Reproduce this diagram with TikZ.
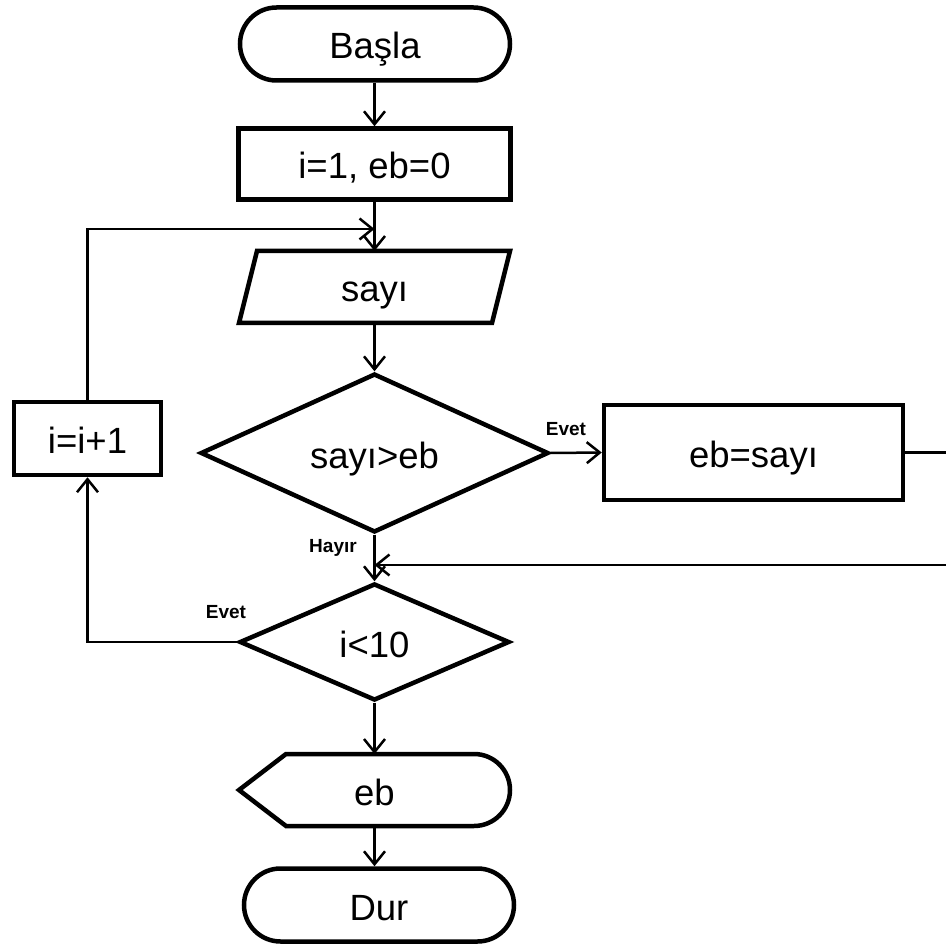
\documentclass[tikz,border=0pt]{standalone}
\usepackage{fontspec}
\setmainfont{Liberation Sans}
\usetikzlibrary{shapes.geometric,shapes.misc,arrows.meta,calc}

\begin{document}
\begin{tikzpicture}[x=1pt,y=-1pt,
  every node/.style={font=\fontsize{36.5}{40}\selectfont, inner sep=0pt,
    text height=30pt, text depth=0pt},
  border/.style={draw, line width=4.5pt},
  term/.style={border, rounded rectangle, minimum width=270pt, minimum height=73pt},
  proc/.style={border, rectangle},
  dec/.style={border, diamond},
  frame/.style={outer sep=0pt},
  conn/.style={line width=2.5pt, -{Straight Barb[length=13pt,width=21pt]}},
  lbl/.style={font=\bfseries\fontsize{19}{22}\selectfont, text height=13.6pt, text depth=0pt}
]
\useasboundingbox (0,0) rectangle (946,944);

% flowchart blocks
\node[term] (start) at (375,44) {Başla};
\node[proc, minimum width=272pt, minimum height=71pt] (init) at (374.5,164) {i=1, eb=0};
\node[frame, minimum width=253pt, minimum height=72pt] (sayi) at (374.5,287) {sayı};
\draw[border] ($(sayi.north west)+(9,0)$) -- ($(sayi.north east)+(9,0)$)
  -- ($(sayi.south east)+(-9,0)$) -- ($(sayi.south west)+(-9,0)$) -- cycle;
\node[dec, minimum width=348pt, minimum height=154pt] (cmp1) at (374.5,453) {sayı>eb};
\node[proc, minimum width=299pt, minimum height=95pt] (upd) at (753.5,452.5) {eb=sayı};
\node[proc, minimum width=147pt, minimum height=73pt] (inc) at (87.5,438.5) {i=i+1};
\node[dec, minimum width=270pt, minimum height=117pt] (cmp2) at (374.5,642) {i<10};
\node[frame, minimum width=271pt, minimum height=72pt] (out) at (374.5,790) {eb};
\draw[border] (out.west) -- ($(out.north west)+(47,0)$) -- ($(out.north east)+(-36,0)$)
  arc[start angle=90, end angle=-90, radius=36pt] -- ($(out.south west)+(47,0)$) -- cycle;
\node[term] (stop) at (379,905) {Dur};

% branch labels
\node[lbl] (yes1) at (566,428.5) {Evet};
\node[lbl] (no1) at (333,545.5) {Hayır};
\node[lbl] (yes2) at (226,612) {Evet};

% junction points on the main column
\coordinate (j1) at (374.5,229);
\coordinate (j2) at (374.5,565);

% connectors
\draw[conn] (start.south -| init.north) -- (init.north);
\draw[conn] (init.south) -- (sayi.north);
\draw[conn] (sayi.south) -- (cmp1.north);
\draw[conn] (cmp1.east) -- (upd.west);
\draw[conn] (upd.east) -- ++(60,0) |- (j2);
\draw[conn] (cmp1.south) -- (cmp2.north);
\draw[conn] (cmp2.west) -| (inc.south);
\draw[conn] (inc.north) |- (j1);
\draw[conn] (cmp2.south) -- (out.north);
\draw[conn] (out.south) -- (out.south |- stop.north);
\end{tikzpicture}
\end{document}
